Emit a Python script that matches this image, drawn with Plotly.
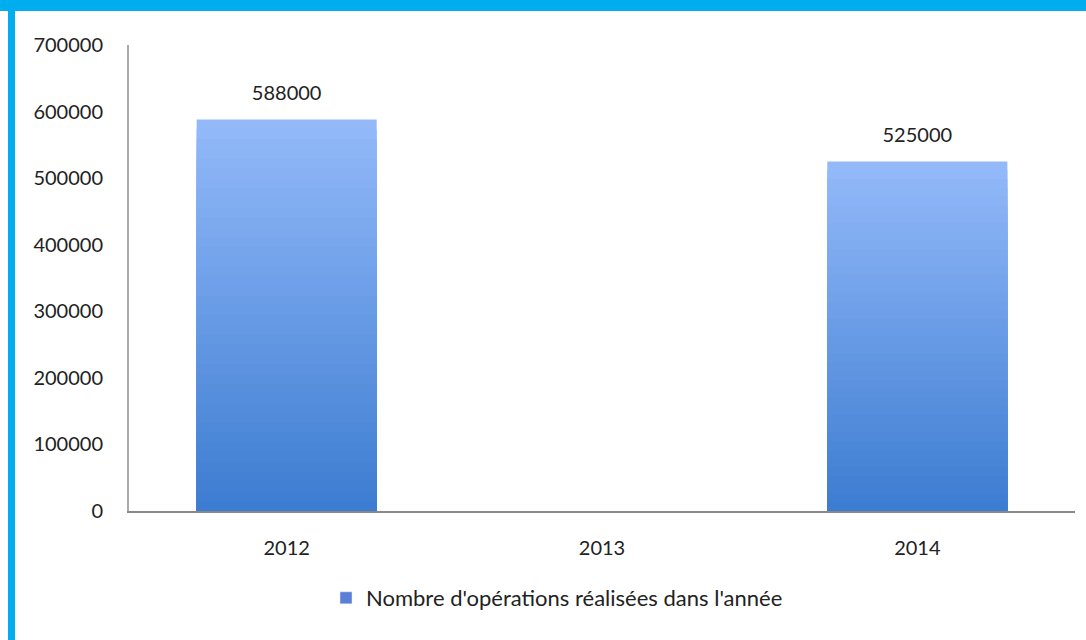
import plotly.graph_objects as go

years = ["2012", "2013", "2014"]
operations = [588000, None, 525000]
series_name = "Nombre d'opérations réalisées dans l'année"
y_ticks = [0, 100000, 200000, 300000, 400000, 500000, 600000, 700000]

top_rgb = (148, 186, 250)
bottom_rgb = (60, 124, 208)
steps = 40

W, H = 1086, 640
L, R, T, B = 129, 11, 45, 129
pw, ph = W - L - R, H - T - B

def mix(f):
    c = [round(b + (t - b) * f) for t, b in zip(top_rgb, bottom_rgb)]
    return f"rgb({c[0]},{c[1]},{c[2]})"

fig = go.Figure()
for i in range(steps, 0, -1):
    f = i / steps
    ys = [v * f if v is not None else None for v in operations]
    fig.add_trace(go.Bar(
        x=years, y=ys, width=0.571,
        marker=dict(color=mix(f - 0.5 / steps), line=dict(width=0)),
        name=series_name, showlegend=False, hoverinfo="skip",
    ))

# legend entry
fig.add_trace(go.Bar(
    x=[years[0]], y=[None], name=series_name,
    marker=dict(color="#5b7fd6"), showlegend=True,
))

# value labels
lab_x = [yr for yr, v in zip(years, operations) if v is not None]
lab_y = [v for v in operations if v is not None]
fig.add_trace(go.Scatter(
    x=lab_x, y=lab_y, mode="markers+text",
    text=[str(v) for v in lab_y], textposition="top center",
    marker=dict(size=22, opacity=0), cliponaxis=False,
    textfont=dict(size=20, color="#222"),
    showlegend=False, hoverinfo="skip",
))

def px_x(x):
    return (x - L) / pw

def px_y(y):
    return 1 + (T - y) / ph

border = "#00AEEF"
fig.add_shape(type="rect", xref="paper", yref="paper",
              x0=px_x(0), x1=px_x(W), y0=px_y(11), y1=px_y(0),
              fillcolor=border, line=dict(width=0), layer="above")
fig.add_shape(type="rect", xref="paper", yref="paper",
              x0=px_x(8), x1=px_x(15), y0=px_y(H), y1=px_y(0),
              fillcolor=border, line=dict(width=0), layer="above")

fig.update_layout(
    width=W, height=H,
    margin=dict(l=L, r=R, t=T, b=B),
    barmode="overlay",
    paper_bgcolor="white", plot_bgcolor="white",
    font=dict(family="Lato", size=20, color="#222"),
    showlegend=True,
    legend=dict(orientation="h", x=px_x(557), xanchor="center",
                y=px_y(598), yanchor="middle", itemwidth=30,
                font=dict(size=22), bgcolor="rgba(0,0,0,0)"),
)
fig.update_xaxes(
    type="category", range=[-0.5, 2.5],
    showline=True, linecolor="#888", linewidth=2,
    showgrid=False, ticks="", ticklabelstandoff=18,
)
fig.update_yaxes(
    range=[0, 700000], tickvals=y_ticks, ticktext=[str(t) for t in y_ticks],
    showline=True, linecolor="#aaa", linewidth=2,
    showgrid=False, ticks="", ticklabelstandoff=20, zeroline=False,
)

fig.write_html("out.html", config={"displayModeBar": False},
               post_script="document.body.style.margin='0';document.body.style.overflow='hidden';")
